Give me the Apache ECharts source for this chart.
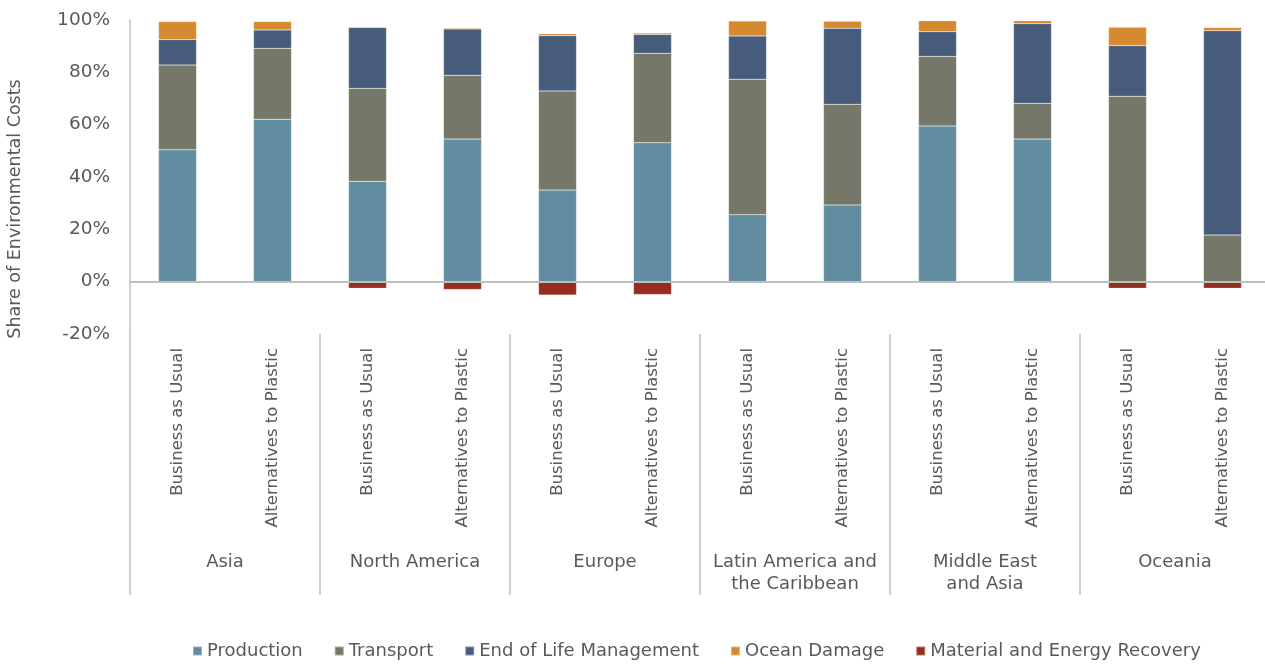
<!DOCTYPE html>
<html>
<head>
<meta charset="utf-8">
<script src="https://cdn.jsdelivr.net/npm/echarts@6/dist/echarts.min.js"></script>
<style>
  html, body { margin: 0; padding: 0; background: #fff; }
  #chart { width: 1265px; height: 664px; }
</style>
</head>
<body>
<div id="chart"></div>
<script>
// regions and the two scenarios per region
const regions = ['Asia', 'North America', 'Europe', 'Latin America and\nthe Caribbean', 'Middle East\nand Asia', 'Oceania']
const scenarios = ['Business as Usual', 'Alternatives to Plastic']

// share of environmental costs, % (one value per bar, region by region)
const production = [50.4, 62.1, 38.4, 54.5, 35.0, 53.1, 25.6, 29.3, 59.5, 54.5, 0, 0]
const transport = [32.4, 27.1, 35.5, 24.4, 37.9, 34.2, 51.8, 38.5, 26.6, 13.7, 70.9, 17.8]
const endOfLife = [9.7, 7.0, 23.2, 17.7, 21.1, 7.2, 16.5, 29.0, 9.4, 30.4, 19.3, 78.1]
const oceanDamage = [6.9, 3.2, 0.3, 0.3, 0.7, 0.5, 5.7, 2.7, 4.2, 1.1, 7.0, 1.2]
const recovery = [-0.5, -0.5, -2.5, -3.0, -5.1, -4.9, -0.2, -0.3, -0.1, -0.1, -2.5, -2.5]

const yTicks = [-20, 0, 20, 40, 60, 80, 100]

const font = 'DejaVu Sans'
const textColor = '#595959'
const lineColor = '#BFBFBF'

// unique keys so the repeated scenario names stay separate categories
const barKeys = []
regions.forEach((r, i) => {
  scenarios.forEach(s => barKeys.push(i + '|' + s))
})

const seriesDefs = [
  {name: 'Production', data: production, color: '#628DA1'},
  {name: 'Transport', data: transport, color: '#757868'},
  {name: 'End of Life Management', data: endOfLife, color: '#475C7A'},
  {name: 'Ocean Damage', data: oceanDamage, color: '#D68A30'},
  {name: 'Material and Energy Recovery', data: recovery, color: '#962E20'}
]

const chart = echarts.init(document.getElementById('chart'))

chart.setOption({
  animation: false,
  textStyle: {fontFamily: font},
  grid: {left: 130, right: -5, top: 20, bottom: 330, containLabel: false, outerBoundsMode: 'none'},
  legend: {
    top: 637,
    left: 187,
    icon: 'rect',
    itemWidth: 9,
    itemHeight: 9,
    itemGap: 31,
    textStyle: {fontFamily: font, fontSize: 18, color: textColor},
    data: seriesDefs.map(s => s.name)
  },
  xAxis: [
    {
      type: 'category',
      data: barKeys,
      position: 'bottom',
      axisLine: {show: false},
      axisTick: {show: false},
      axisLabel: {
        interval: 0,
        rotate: 90,
        margin: 14,
        fontFamily: font,
        fontSize: 16.5,
        color: textColor,
        formatter: v => v.split('|')[1]
      }
    },
    {
      type: 'category',
      data: regions,
      position: 'bottom',
      axisLine: {show: false},
      axisTick: {show: true, interval: 0, length: 261, lineStyle: {color: lineColor, width: 1.5}},
      axisLabel: {
        interval: 0,
        margin: 217,
        fontFamily: font,
        fontSize: 18,
        lineHeight: 22,
        color: textColor
      }
    }
  ],
  yAxis: {
    type: 'value',
    min: yTicks[0],
    max: yTicks[yTicks.length - 1],
    interval: 20,
    name: 'Share of Environmental Costs',
    nameLocation: 'middle',
    nameGap: 106,
    nameTextStyle: {fontFamily: font, fontSize: 17.5, color: textColor, padding: [0, 64, 0, 0]},
    axisLine: {show: true, lineStyle: {color: lineColor, width: 1.5}},
    axisTick: {show: false},
    splitLine: {show: false},
    axisLabel: {fontFamily: font, fontSize: 18.5, color: textColor, margin: 20, formatter: '{value}%'}
  },
  series: seriesDefs.map((s, i) => {
    const item = {
      name: s.name,
      type: 'bar',
      stack: 'total',
      xAxisIndex: 0,
      barWidth: 38,
      data: s.data,
      itemStyle: {color: s.color, borderColor: 'rgba(255,255,255,0.35)', borderWidth: 0.5}
    }
    if (i === 0) {
      item.markLine = {
        silent: true,
        symbol: 'none',
        label: {show: false},
        lineStyle: {color: lineColor, width: 2, type: 'solid'},
        data: [{yAxis: 0}]
      }
    }
    return item
  })
})
</script>
</body>
</html>
